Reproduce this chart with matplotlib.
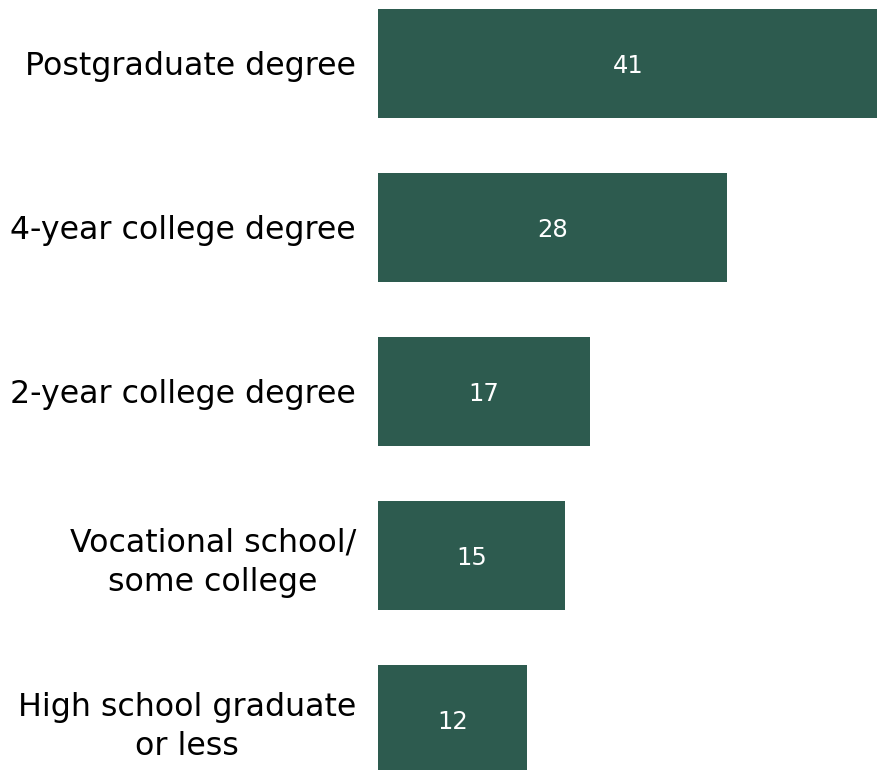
import matplotlib.pyplot as plt

categories = ['Postgraduate degree', '4-year college degree', '2-year college degree',
              'Vocational school/\nsome college', 'High school graduate\nor less']
values = [40.6, 28.3, 17.2, 15.2, 12.1]
value_labels = ['41', '28', '17', '15', '12']

bar_color = '#2d5b4f'

fig = plt.figure(figsize=(8.78, 7.70), dpi=100)
ax = fig.add_axes([378 / 878, 0, 500 / 878, 1])

pos = list(range(len(categories)))
ax.barh(pos, values, height=0.665, color=bar_color)
for p, v, lab in zip(pos, values, value_labels):
    ax.text(v / 2, p, lab, ha='center', va='center_baseline',
            color='white', fontsize=17.5)

ax.set_xlim(0, values[0])
ax.set_ylim(4.308, -0.387)
ax.set_yticks(pos)
ax.set_yticklabels(categories, fontsize=22.8)
for lab in ax.get_yticklabels():
    lab.set_multialignment('center')
    lab.set_linespacing(1.35)
ax.tick_params(axis='y', length=0, pad=15.8)
ax.set_xticks([])
for s in ax.spines.values():
    s.set_visible(False)

fig.savefig('out.png', dpi=100)
